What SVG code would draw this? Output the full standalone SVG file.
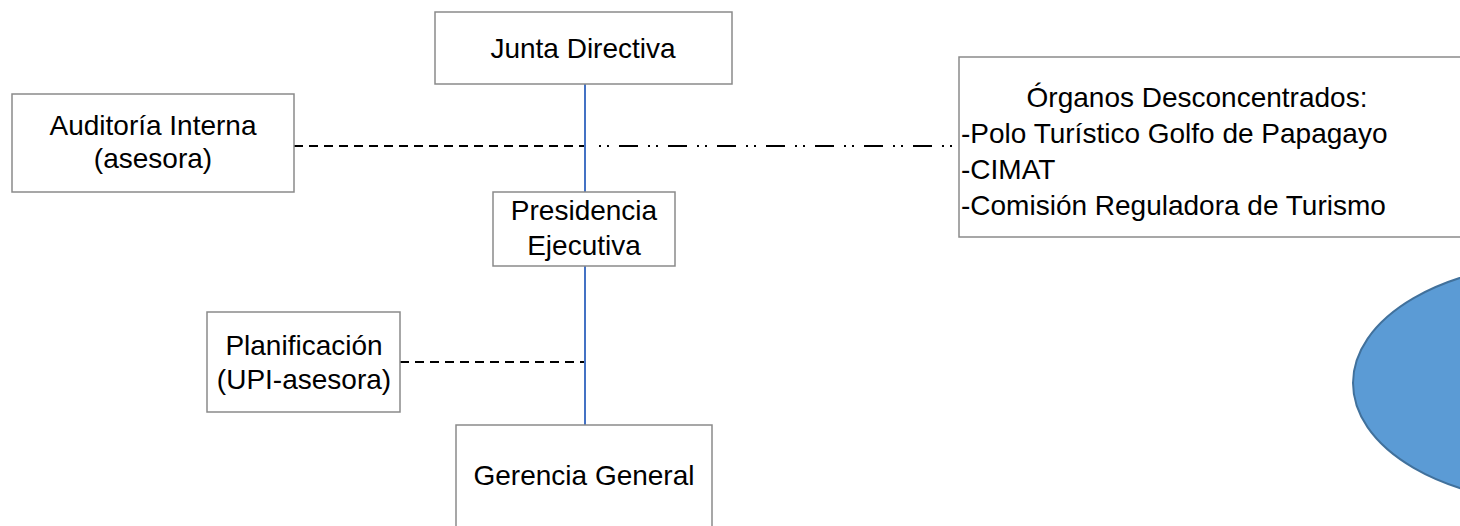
<svg xmlns="http://www.w3.org/2000/svg" width="1460" height="526" viewBox="0 0 1460 526">
<style>
.box{fill:#fff;stroke:#8a8a8a;stroke-width:1.5}
.t{font-family:"Liberation Sans",Arial,sans-serif;font-size:28px;fill:#000}
.c{text-anchor:middle}
.dash{stroke:#000;stroke-width:2;fill:none;stroke-dasharray:9 6}
.dd{stroke:#000;stroke-width:2;fill:none;stroke-dasharray:19 10 2 6 2 10}
.blue{stroke:#4472C4;stroke-width:2;fill:none}
</style>
<rect width="1460" height="526" fill="#fff"/>
<g id="connectors">
<line class="dash" x1="294" y1="146" x2="585" y2="146"/>
<line class="dd" x1="590" y1="146" x2="956" y2="146" stroke-dashoffset="20"/>
<line class="dash" x1="400" y1="362" x2="585" y2="362"/>
<line class="blue" x1="585" y1="84" x2="585" y2="425"/>
</g>
<g id="junta">
<rect class="box" x="435" y="12" width="297" height="72"/>
<text class="t c" x="583" y="58">Junta Directiva</text>
</g>
<g id="auditoria">
<rect class="box" x="12" y="94" width="282" height="98"/>
<text class="t c" x="153" y="135">Auditoría Interna</text>
<text class="t c" x="153" y="168">(asesora)</text>
</g>
<g id="presidencia">
<rect class="box" x="493" y="192" width="182" height="74"/>
<text class="t c" x="584" y="220">Presidencia</text>
<text class="t c" x="584" y="255">Ejecutiva</text>
</g>
<g id="planificacion">
<rect class="box" x="207" y="312" width="193" height="100"/>
<text class="t c" x="304" y="355">Planificación</text>
<text class="t c" x="304" y="389">(UPI-asesora)</text>
</g>
<g id="gerencia">
<rect class="box" x="456" y="425" width="256" height="120"/>
<text class="t c" x="584" y="485">Gerencia General</text>
</g>
<g id="organos">
<rect class="box" x="959" y="57" width="520" height="180"/>
<text class="t c" x="1197" y="107">Órganos Desconcentrados:</text>
<text class="t" x="961" y="143">-Polo Turístico Golfo de Papagayo</text>
<text class="t" x="961" y="179">-CIMAT</text>
<text class="t" x="961" y="215">-Comisión Reguladora de Turismo</text>
</g>
<g id="ellipse">
<ellipse cx="1560" cy="383" rx="207" ry="120" fill="#5B9BD5" stroke="#41719C" stroke-width="2"/>
</g>
</svg>
